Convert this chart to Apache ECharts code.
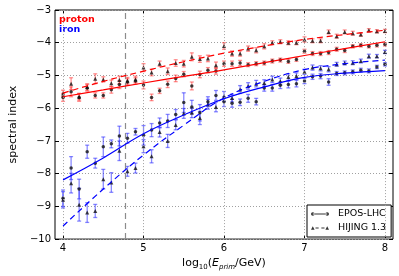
<!DOCTYPE html>
<html><head><meta charset="utf-8">
<script src="https://cdn.jsdelivr.net/npm/echarts@6/dist/echarts.min.js"></script>
<style>html,body{margin:0;padding:0;background:#fff}#c{width:399px;height:276px}</style>
</head><body><div id="c"></div>
<script>
// ---- data ----
const energies = [4.0,4.1,4.2,4.3,4.4,4.5,4.6,4.7,4.8,4.9,5.0,5.1,5.2,5.3,5.4,5.5,5.6,5.7,5.8,5.9,6.0,6.1,6.2,6.3,6.4,6.5,6.6,6.7,6.8,6.9,7.0,7.1,7.2,7.3,7.4,7.5,7.6,7.7,7.8,7.9,8.0];

const protonEpos = [-5.67,-5.50,-5.67,-5.38,-5.61,-5.61,-5.44,-5.28,-5.20,-5.17,-5.29,-5.67,-5.47,-5.27,-5.09,-4.96,-5.32,-4.97,-4.84,-4.86,-4.64,-4.64,-4.62,-4.67,-4.64,-4.62,-4.56,-4.53,-4.57,-4.51,-4.26,-4.33,-4.33,-4.30,-4.20,-4.24,-4.11,-4.08,-4.11,-4.08,-4.05];
const protonEposErr = [0.12,0.15,0.12,0.10,0.08,0.08,0.10,0.12,0.10,0.10,0.12,0.10,0.08,0.10,0.10,0.08,0.12,0.10,0.08,0.10,0.08,0.08,0.08,0.06,0.06,0.06,0.06,0.06,0.06,0.06,0.06,0.06,0.06,0.06,0.06,0.06,0.05,0.05,0.05,0.05,0.05];
const protonHijing = [-5.55,-5.25,-5.65,-5.35,-5.10,-5.12,-5.24,-5.14,-5.16,-5.12,-4.76,-4.91,-4.64,-4.87,-4.62,-4.64,-4.43,-4.50,-4.48,-4.69,-4.10,-4.33,-4.33,-4.18,-4.23,-4.11,-4.00,-3.97,-4.00,-4.00,-3.90,-3.94,-3.94,-3.67,-3.80,-3.67,-3.71,-3.75,-3.62,-3.65,-3.64];
const protonHijingErr = [0.10,0.18,0.10,0.10,0.15,0.08,0.10,0.12,0.10,0.10,0.12,0.10,0.08,0.10,0.10,0.10,0.12,0.10,0.10,0.10,0.10,0.08,0.08,0.08,0.08,0.08,0.06,0.06,0.06,0.06,0.08,0.06,0.06,0.06,0.06,0.06,0.06,0.05,0.05,0.05,0.05];

const ironEpos = [-8.75,-7.83,-8.47,-7.33,-7.68,-7.18,-7.09,-6.85,-6.92,-6.72,-6.83,-6.67,-6.45,-6.39,-6.19,-5.83,-5.96,-6.14,-5.80,-5.61,-5.80,-5.85,-5.82,-5.70,-5.80,-5.38,-5.38,-5.30,-5.28,-5.25,-5.17,-5.04,-5.02,-5.20,-4.94,-4.92,-4.89,-4.84,-4.86,-4.74,-4.66];
const ironEposErr = [0.25,0.35,0.30,0.20,0.15,0.30,0.12,0.30,0.15,0.10,0.30,0.20,0.15,0.20,0.15,0.30,0.20,0.25,0.15,0.15,0.15,0.12,0.10,0.12,0.10,0.10,0.10,0.10,0.10,0.10,0.08,0.08,0.08,0.10,0.06,0.06,0.06,0.06,0.06,0.05,0.05];
const ironHijing = [-8.80,-8.29,-8.95,-9.19,-9.14,-8.17,-8.27,-7.30,-7.93,-7.83,-7.16,-7.47,-6.73,-7.00,-6.51,-6.16,-6.14,-6.30,-5.88,-5.96,-5.64,-5.69,-5.43,-5.32,-5.25,-5.23,-5.12,-5.18,-5.05,-5.02,-4.89,-4.76,-4.78,-4.81,-4.66,-4.62,-4.61,-4.56,-4.41,-4.41,-4.28];
const ironHijingErr = [0.25,0.30,0.50,0.30,0.20,0.30,0.30,0.30,0.15,0.15,0.20,0.20,0.15,0.20,0.15,0.15,0.15,0.20,0.15,0.15,0.15,0.12,0.12,0.10,0.10,0.10,0.10,0.10,0.10,0.10,0.08,0.08,0.08,0.08,0.06,0.06,0.06,0.06,0.06,0.05,0.05];

const fitX = [4.0,4.5,5.0,5.5,6.0,6.5,7.0,7.5,8.0];
const protonEposFit = [-5.65,-5.44,-5.23,-5.03,-4.83,-4.61,-4.39,-4.18,-3.97];
const protonHijingFit = [-5.54,-5.18,-4.87,-4.58,-4.32,-4.10,-3.90,-3.75,-3.62];
const ironEposFit = [-8.19,-7.52,-6.78,-6.21,-5.71,-5.35,-5.06,-4.93,-4.85];
const ironHijingFit = [-9.60,-8.47,-7.43,-6.52,-5.69,-5.18,-4.82,-4.64,-4.53];

const xTicks = [4,5,6,7,8];
const cutEnergy = 4.77;
const modelNames = ['EPOS-LHC','HIJING 1.3'];
const speciesNames = ['proton','iron'];

// ---- helpers ----
const FONT = 'DejaVu Sans';
const RED = '#ff0000', BLUE = '#0000ff';
const RED_ERR = 'rgba(255,40,40,0.5)', BLUE_ERR = 'rgba(40,40,255,0.55)';
const GRID_COLOR = '#a0a0a0';

function errSeries(vals, errs, color) {
  return {
    type: 'custom', silent: true, z: 3, clip: true,
    data: energies.map((x, i) => [x, vals[i] - errs[i], vals[i] + errs[i]]),
    encode: {x: 0, y: [1, 2]},
    renderItem: (params, api) => {
      const x = api.value(0);
      const lo = api.coord([x, api.value(1)]);
      const hi = api.coord([x, api.value(2)]);
      const w = 2;
      const st = {stroke: color, lineWidth: 1.3};
      return {type: 'group', children: [
        {type: 'line', shape: {x1: lo[0], y1: lo[1], x2: hi[0], y2: hi[1]}, style: st},
        {type: 'line', shape: {x1: lo[0]-w, y1: lo[1], x2: lo[0]+w, y2: lo[1]}, style: st},
        {type: 'line', shape: {x1: hi[0]-w, y1: hi[1], x2: hi[0]+w, y2: hi[1]}, style: st}
      ]};
    }
  };
}
function pts(vals, name, symbol, size) {
  return {type: 'scatter', name, z: 4, symbol, symbolSize: size,
    itemStyle: {color: '#111'}, data: energies.map((x, i) => [x, vals[i]]), silent: true};
}
function fit(vals, color, dashed) {
  return {type: 'line', z: 5, smooth: 0.4, symbol: 'none', silent: true,
    lineStyle: {color, width: 1.2, type: dashed ? [6, 4] : 'solid'},
    data: fitX.map((x, i) => [x, vals[i]])};
}

const eposIcon = 'path://M0,3a2,2 0 1,0 4,0a2,2 0 1,0 -4,0zM2,2.5h16v1h-16zM16,3a2,2 0 1,0 4,0a2,2 0 1,0 -4,0z';
const hijingIcon = 'path://M0,5l2,-4l2,4zM5,2.5h3.5v1h-3.5zM11.5,2.5h3.5v1h-3.5zM16,5l2,-4l2,4z';

const chart = echarts.init(document.getElementById('c'), null, {renderer: 'canvas'});
const tickStyle = {inside: true, length: 4, lineStyle: {color: '#000', width: 1}};
chart.setOption({
  animation: false,
  textStyle: {fontFamily: FONT},
  grid: {left: 43, right: 6, top: 10, bottom: 36.5, show: true, borderColor: '#000', borderWidth: 1, backgroundColor: 'transparent'},
  legend: {
    orient: 'vertical', left: 307, top: 205, selectedMode: false,
    itemWidth: 18, itemHeight: 5, itemGap: 4, padding: [4, 5, 4, 4],
    borderColor: '#000', borderWidth: 1, backgroundColor: '#fff',
    textStyle: {fontSize: 9.5, color: '#000', fontFamily: FONT, padding: [0, 0, 0, 4]},
    data: [
      {name: modelNames[0], icon: eposIcon, itemStyle: {color: '#000'}},
      {name: modelNames[1], icon: hijingIcon, itemStyle: {color: '#000'}}
    ]
  },
  graphic: [
    {type: 'text', left: 59, top: 15, style: {text: speciesNames[0], fill: RED, font: 'bold 9.5px "DejaVu Sans"'}},
    {type: 'text', left: 59, top: 24.5, style: {text: speciesNames[1], fill: BLUE, font: 'bold 9.5px "DejaVu Sans"'}}
  ],
  xAxis: [
    {type: 'value', min: 3.9, max: 8.1, position: 'bottom',
      axisLine: {show: false},
      axisTick: Object.assign({customValues: xTicks}, tickStyle),
      axisLabel: {customValues: xTicks, color: '#000', fontSize: 10, margin: 4, fontFamily: FONT},
      splitLine: {show: false},
      name: '{a|log}{s|10}{a|(}{i|E}{p|prim}{a|/GeV)}', nameLocation: 'middle', nameGap: 15,
      nameTextStyle: {rich: {
        a: {fontSize: 11, color: '#000', fontFamily: FONT, verticalAlign: 'bottom'},
        s: {fontSize: 7, color: '#000', fontFamily: FONT, verticalAlign: 'bottom', padding: [0,0,-2,0]},
        i: {fontSize: 11, color: '#000', fontFamily: FONT, fontStyle: 'italic', verticalAlign: 'bottom'},
        p: {fontSize: 7, color: '#000', fontFamily: FONT, fontStyle: 'italic', verticalAlign: 'bottom', padding: [0,0,-2,0]}
      }}
    },
    {type: 'value', min: 3.9, max: 8.1, position: 'top',
      axisLine: {show: false}, axisLabel: {show: false}, splitLine: {show: false},
      axisTick: Object.assign({customValues: xTicks}, tickStyle)}
  ],
  yAxis: [
    {type: 'value', min: -10, max: -3, interval: 1, position: 'left',
      axisLine: {show: false}, axisTick: tickStyle,
      axisLabel: {color: '#000', fontSize: 10, margin: 4, fontFamily: FONT, formatter: v => String(v).replace('-', '\u2212')},
      splitLine: {show: true, lineStyle: {type: [1, 2], color: GRID_COLOR, width: 1}},
      name: 'spectral index', nameLocation: 'middle', nameGap: 27,
      nameTextStyle: {fontSize: 11, color: '#000', fontFamily: FONT}},
    {type: 'value', min: -10, max: -3, interval: 1, position: 'right',
      axisLine: {show: false}, axisLabel: {show: false}, splitLine: {show: false}, axisTick: tickStyle}
  ],
  series: [
    {type: 'line', data: [], z: 1, silent: true,
      markLine: {silent: true, symbol: 'none', label: {show: false}, animation: false,
        data: xTicks.map(v => ({xAxis: v, lineStyle: {type: [1, 2], color: GRID_COLOR, width: 1}}))
          .concat([{xAxis: cutEnergy, lineStyle: {type: [6, 4], color: '#8c8c8c', width: 1.2}}])}},
    errSeries(protonEpos, protonEposErr, RED_ERR),
    errSeries(protonHijing, protonHijingErr, RED_ERR),
    errSeries(ironEpos, ironEposErr, BLUE_ERR),
    errSeries(ironHijing, ironHijingErr, BLUE_ERR),
    pts(protonEpos, modelNames[0], 'circle', 3.5),
    pts(ironEpos, modelNames[0], 'circle', 3.5),
    pts(protonHijing, modelNames[1], 'triangle', 4),
    pts(ironHijing, modelNames[1], 'triangle', 4),
    fit(protonEposFit, RED, false),
    fit(protonHijingFit, RED, true),
    fit(ironEposFit, BLUE, false),
    fit(ironHijingFit, BLUE, true)
  ]
});
</script></body></html>
